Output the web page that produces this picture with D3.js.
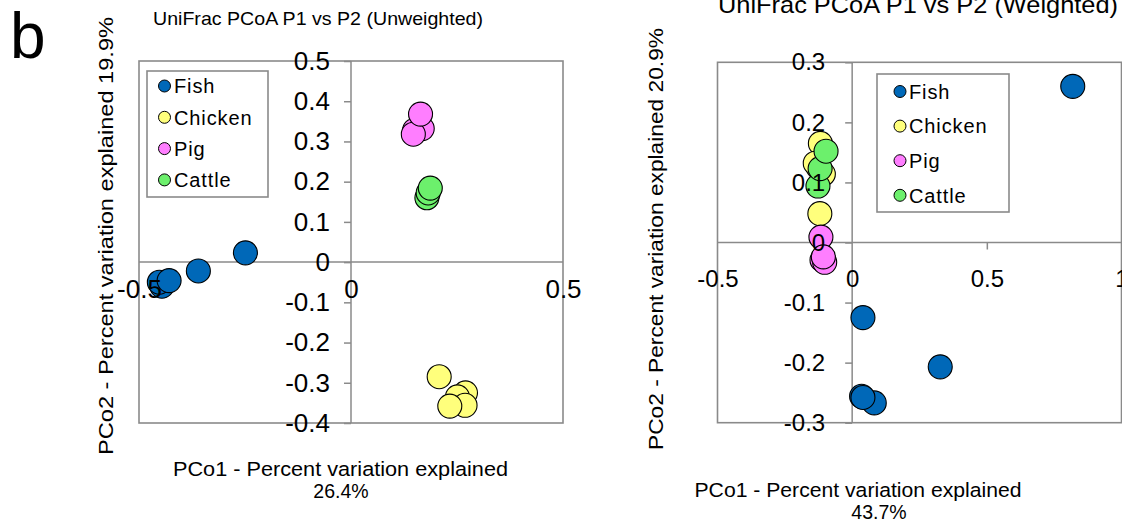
<!DOCTYPE html>
<html><head><meta charset="utf-8">
<script src="https://cdn.jsdelivr.net/npm/d3@7"></script>
<style>
html,body{margin:0;padding:0;background:#fff;overflow:hidden}
text{font-family:"Liberation Sans",Arial,sans-serif;fill:#000}
</style></head>
<body><svg id="chart" width="1122" height="526"></svg>
<script>
// ---------- data ----------
const groups = ["Fish", "Chicken", "Pig", "Cattle"];
const groupColors = ["#0068b8", "#ffff7c", "#ff7eff", "#6cf06c"];

// Unweighted panel: [PCo1, PCo2]
const unwFish    = [[-0.446,-0.060],[-0.452,-0.050],[-0.429,-0.046],[-0.360,-0.022],[-0.249,0.023]];
const unwChicken = [[0.208,-0.285],[0.270,-0.325],[0.251,-0.335],[0.269,-0.356],[0.233,-0.358]];
const unwPig     = [[0.150,0.328],[0.168,0.332],[0.147,0.318],[0.164,0.368]];
const unwCattle  = [[0.179,0.160],[0.182,0.172],[0.187,0.184]];

// Weighted panel: [PCo1, PCo2]
const wFish    = [[0.819,0.260],[0.040,-0.125],[0.327,-0.207],[0.082,-0.267],[0.035,-0.256],[0.040,-0.258]];
const wChicken = [[-0.118,0.165],[-0.126,0.125],[-0.137,0.132],[-0.107,0.114],[-0.120,0.048]];
const wPig     = [[-0.116,0.009],[-0.112,-0.029],[-0.102,-0.033],[-0.107,-0.024]];
const wCattle  = [[-0.127,0.094],[-0.119,0.123],[-0.097,0.152]];

const unwXTicks = [-0.5, 0, 0.5];
const unwYTicks = [0.5, 0.4, 0.3, 0.2, 0.1, 0, -0.1, -0.2, -0.3, -0.4];
const wXTicks = [-0.5, 0, 0.5, 1];
const wYTicks = [0.3, 0.2, 0.1, 0, -0.1, -0.2, -0.3];

const panelLabel = "b";
const titles = ["UniFrac PCoA P1 vs P2 (Unweighted)", "UniFrac PCoA P1 vs P2 (Weighted)"];
const xTitles = [["PCo1 - Percent variation explained", "26.4%"], ["PCo1 - Percent variation explained", "43.7%"]];
const yTitles = ["PCo2 - Percent variation explained 19.9%", "PCo2 - Percent variation explained 20.9%"];

// ---------- drawing ----------
const svg = d3.select("#chart");
svg.append("rect").attr("width",1122).attr("height",526).attr("fill","#fff");
const GRAY = "#8a8a8a";
const fmt = v => (v === 0 ? "0" : String(v));

svg.append("text").attr("x",10).attr("y",58).attr("font-size",64).text(panelLabel);

function panel(cfg) {
  const g = svg.append("g");
  const x = d3.scaleLinear().domain(cfg.xDom).range(cfg.xRange);
  const y = d3.scaleLinear().domain(cfg.yDom).range(cfg.yRange);
  const [x0,x1] = cfg.xRange, [y1,y0] = cfg.yRange;

  g.append("rect").attr("x",x0).attr("y",y0).attr("width",x1-x0).attr("height",y1-y0)
    .attr("fill","#fff").attr("stroke",GRAY).attr("stroke-width",1.6);
  g.append("line").attr("x1",x0).attr("x2",x1).attr("y1",y(0)).attr("y2",y(0)).attr("stroke",GRAY).attr("stroke-width",1.5);
  g.append("line").attr("x1",x(0)).attr("x2",x(0)).attr("y1",y0).attr("y2",y1).attr("stroke",GRAY).attr("stroke-width",1.5);

  const ya = g.append("g").attr("transform",`translate(${x(0)},0)`)
    .call(d3.axisLeft(y).tickValues(cfg.yTicks).tickFormat(fmt).tickSize(7).tickPadding(cfg.yPad));
  ya.select(".domain").remove();
  ya.selectAll(".tick line").attr("stroke",GRAY).attr("stroke-width",1.5);
  ya.selectAll(".tick text").attr("font-size",cfg.tickFont).attr("font-family",null).attr("fill","#000");

  const xa = g.append("g").attr("transform",`translate(0,${y(0)})`)
    .call(d3.axisBottom(x).tickValues(cfg.xTicks).tickFormat(fmt).tickSize(7).tickPadding(cfg.xPad));
  xa.select(".domain").remove();
  xa.selectAll(".tick line").attr("stroke",GRAY).attr("stroke-width",1.5)
    .attr("display", d => (d === 0 || d === cfg.xDom[0] || d === cfg.xDom[1]) ? "none" : null);
  xa.selectAll(".tick text").attr("font-size",cfg.tickFont).attr("font-family",null).attr("fill","#000");

  cfg.series.forEach((pts, i) => {
    g.append("g").selectAll("circle").data(pts).join("circle")
      .attr("cx", d => x(d[0])).attr("cy", d => y(d[1])).attr("r", 12)
      .attr("fill", groupColors[i]).attr("stroke","#000").attr("stroke-width",1.1);
  });

  ya.raise(); xa.raise();

  const L = cfg.legend;
  const lg = g.append("g");
  lg.append("rect").attr("x",L.x).attr("y",L.y).attr("width",L.w).attr("height",L.h)
    .attr("fill","#fff").attr("stroke",GRAY).attr("stroke-width",1.6);
  groups.forEach((name,i) => {
    const cy = L.y + L.first + i*L.step;
    lg.append("circle").attr("cx",L.x+L.mx).attr("cy",cy).attr("r",6)
      .attr("fill",groupColors[i]).attr("stroke","#000").attr("stroke-width",1);
    lg.append("text").attr("x",L.x+L.tx).attr("y",cy).attr("dy","0.36em")
      .attr("font-size",20).attr("letter-spacing",0.9).text(name);
  });

  g.append("text").attr("x",cfg.title.x).attr("y",cfg.title.y).attr("text-anchor","middle")
    .attr("font-size",cfg.title.size).attr("textLength",cfg.title.len).attr("lengthAdjust","spacingAndGlyphs").text(cfg.title.text);
  g.append("text").attr("x",cfg.xt.x).attr("y",cfg.xt.y).attr("text-anchor","middle")
    .attr("font-size",20.5).attr("textLength",cfg.xt.len).attr("lengthAdjust","spacingAndGlyphs").text(cfg.xt.text[0]);
  g.append("text").attr("x",cfg.xt.x2).attr("y",cfg.xt.y+22).attr("text-anchor","middle")
    .attr("font-size",19.5).text(cfg.xt.text[1]);
  g.append("text").attr("transform",`translate(${cfg.yt.x},${cfg.yt.y}) rotate(-90)`).attr("text-anchor","middle")
    .attr("font-size",20.5).attr("textLength",cfg.yt.len).attr("lengthAdjust","spacingAndGlyphs").text(cfg.yt.text);
}

panel({
  xDom:[-0.5,0.5], yDom:[-0.4,0.5], xRange:[139,563], yRange:[423,61],
  xTicks:unwXTicks, yTicks:unwYTicks, tickFont:26, yPad:14, xPad:10,
  series:[unwFish, unwChicken, unwPig, unwCattle],
  legend:{x:147,y:71,w:121,h:126,first:15,step:31.3,mx:17.5,tx:27},
  title:{x:318,y:25,size:19,len:330,text:titles[0]},
  xt:{x:340.5,x2:341,y:476,len:335,text:xTitles[0]},
  yt:{x:113,y:236,len:438,text:yTitles[0]}
});

panel({
  xDom:[-0.5,1], yDom:[-0.3,0.3], xRange:[717.5,1121.5], yRange:[422.7,62.3],
  xTicks:wXTicks, yTicks:wYTicks, tickFont:24, yPad:20, xPad:20,
  series:[wFish, wChicken, wPig, wCattle],
  legend:{x:877,y:74,w:132,h:138,first:17.5,step:34.6,mx:23,tx:32},
  title:{x:918,y:13,size:24,len:400,text:titles[1]},
  xt:{x:858,x2:879,y:497,len:327,text:xTitles[1]},
  yt:{x:663,y:239,len:422,text:yTitles[1]}
});
</script></body></html>
